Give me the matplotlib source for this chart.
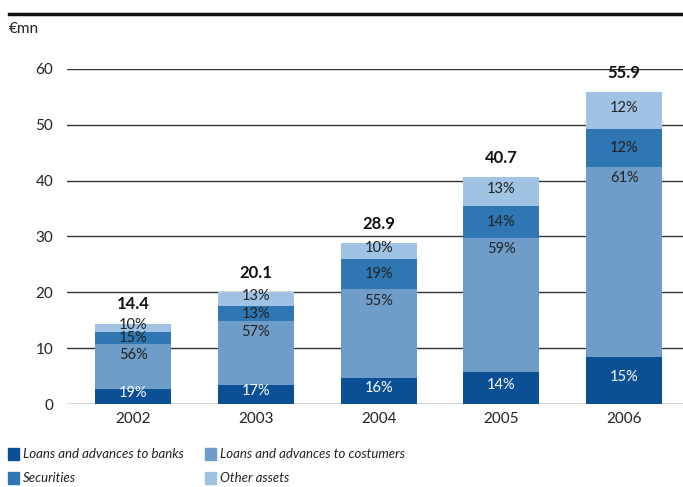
import matplotlib.pyplot as plt
from matplotlib.patches import Rectangle
import numpy as np

years = ['2002', '2003', '2004', '2005', '2006']
totals = [14.4, 20.1, 28.9, 40.7, 55.9]
pct_banks = [19, 17, 16, 14, 15]
pct_customers = [56, 57, 55, 59, 61]
pct_securities = [15, 13, 19, 14, 12]
pct_other = [10, 13, 10, 13, 12]

names = ['Loans and advances to banks', 'Loans and advances to costumers',
         'Securities', 'Other assets']
colors = ['#0b4f95', '#6f9dc9', '#2e77b2', '#a0c3e4']

plt.rcParams['font.family'] = ['Lato', 'DejaVu Sans']

fig = plt.figure(figsize=(6.83, 4.87), dpi=100)
ax = fig.add_axes([67/683, 1-404/487, 1-67/683, 335/487])

x = np.arange(len(years))
tot = np.array(totals)
series = [pct_banks, pct_customers, pct_securities, pct_other]
bottom = np.zeros(len(years))
w = 0.62
for i, pct in enumerate(series):
    h = tot * np.array(pct) / 100.
    ax.bar(x, h, w, bottom=bottom, color=colors[i], zorder=3)
    for j in range(len(years)):
        lab = '%d%%' % pct[j]
        if i == 0:
            ax.text(x[j], bottom[j] + h[j]/2 + 0.6, lab, ha='center', va='center',
                    color='white', fontsize=10.5, zorder=4)
        elif i == 1:
            ax.annotate(lab, (x[j], bottom[j] + h[j]), xytext=(0, -3),
                        textcoords='offset points', ha='center', va='top',
                        color='#222222', fontsize=10.5, zorder=4)
        elif i == 2:
            ax.text(x[j], bottom[j] + h[j]/2, lab, ha='center', va='center',
                    color='#222222', fontsize=10.5, zorder=4)
        else:
            ax.text(x[j], bottom[j] + h[j]/2 + 0.5, lab, ha='center', va='center',
                    color='#222222', fontsize=10.5, zorder=4)
    bottom = bottom + h

for j in range(len(years)):
    ax.annotate('%.1f' % totals[j], (x[j], totals[j]), xytext=(0, 8),
                textcoords='offset points', ha='center', va='bottom',
                fontsize=12, fontweight='bold', color='#111111')

ax.set_xlim(-0.54, 4.48)
ax.set_ylim(0, 60)
ax.set_yticks(range(0, 61, 10))
ax.set_xticks(x)
ax.set_xticklabels(years)
ax.yaxis.grid(True, color='#333333', lw=1)
ax.set_axisbelow(True)
for s in ax.spines.values():
    s.set_visible(False)
ax.tick_params(axis='both', length=0, labelsize=11, colors='#222222')
ax.tick_params(axis='y', pad=10)
ax.tick_params(axis='x', pad=6)

# top rule and unit
fig.add_artist(plt.Line2D([9/683, 1], [1-14/487, 1-14/487], color='#111111', lw=2.5))
fig.text(9/683, 1-29/487, '\u20acmn', fontsize=11, va='center', color='#222222')

# legend
pos = [(8, 448), (205, 448), (8, 472), (205, 472)]
for (px, py), n, c in zip(pos, names, colors):
    fig.add_artist(Rectangle((px/683, 1-(py+12)/487), 11/683, 12/487,
                             color=c, transform=fig.transFigure))
    fig.text((px+15)/683, 1-(py+6)/487, n, fontsize=9.5, style='italic',
             va='center', color='#222222')

plt.savefig('out.png', dpi=100)
